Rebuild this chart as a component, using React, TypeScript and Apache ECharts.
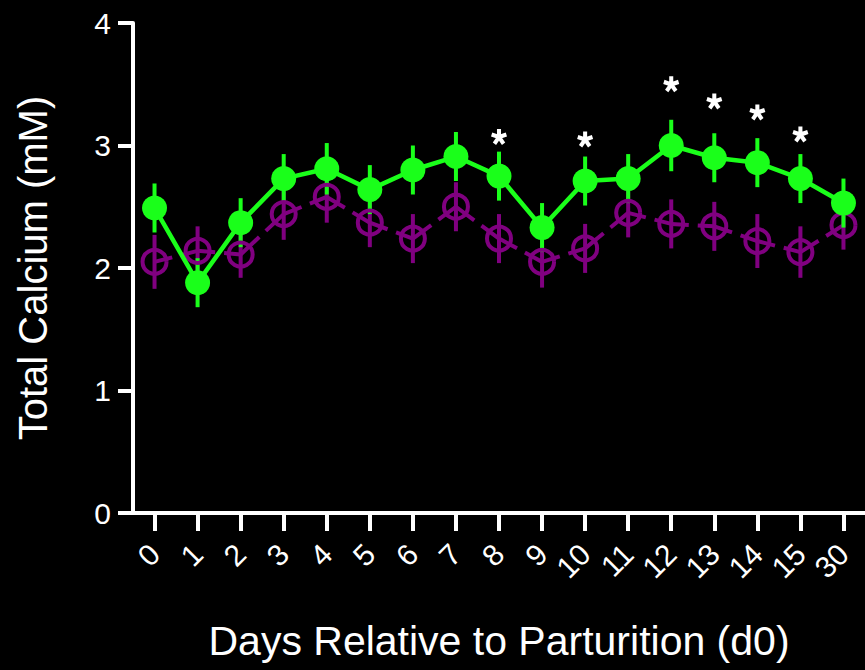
import React, { useEffect, useRef } from "react";
import * as echarts from "echarts";

const days = ["0", "1", "2", "3", "4", "5", "6", "7", "8", "9", "10", "11", "12", "13", "14", "15", "30"];
const greenMean = [2.49, 1.88, 2.37, 2.73, 2.81, 2.64, 2.8, 2.91, 2.75, 2.33, 2.71, 2.73, 3.0, 2.9, 2.86, 2.73, 2.53];
const greenErr = [0.2, 0.2, 0.2, 0.2, 0.21, 0.2, 0.2, 0.2, 0.2, 0.2, 0.2, 0.2, 0.21, 0.2, 0.2, 0.2, 0.2];
const purpleMean = [2.05, 2.14, 2.11, 2.44, 2.58, 2.37, 2.24, 2.5, 2.24, 2.05, 2.16, 2.45, 2.36, 2.34, 2.22, 2.13, 2.35];
const purpleErr = [0.22, 0.2, 0.19, 0.21, 0.21, 0.2, 0.2, 0.2, 0.2, 0.21, 0.2, 0.2, 0.2, 0.2, 0.22, 0.21, 0.2];
const starIndex = [8, 10, 12, 13, 14, 15];
const starValue = [3.07, 3.05, 3.5, 3.36, 3.27, 3.09];
const yTicks = [0, 1, 2, 3, 4];

const GREEN = "#1aff1a";
const PURPLE = "#800080";
const FONT = "Liberation Sans";

const STAR_PATH =
  "path://M74 100L74 0L126 0L126 100Z" +
  "M92 75.3L187.1 44.4L203.1 93.8L108 124.7Z" +
  "M121 84.7L179.8 165.6L137.8 196.2L79 115.3Z" +
  "M121 115.3L62.2 196.2L20.2 165.6L79 84.7Z" +
  "M92 124.7L-3.1 93.8L12.9 44.4L108 75.3Z";

function errorBarSeries(means: number[], errs: number[], color: string) {
  return {
    type: "custom",
    coordinateSystem: "cartesian2d",
    silent: true,
    data: means.map((m, i) => [i, m - errs[i], m + errs[i]]),
    renderItem: (params: any, api: any) => {
      const i = api.value(0);
      const lo = api.coord([i, api.value(1)]);
      const hi = api.coord([i, api.value(2)]);
      return {
        type: "line",
        shape: { x1: lo[0], y1: lo[1], x2: hi[0], y2: hi[1] },
        style: { stroke: color, lineWidth: 4 },
      };
    },
  };
}

export default function App() {
  const ref = useRef<HTMLDivElement>(null);
  useEffect(() => {
    if (!ref.current) return;
    const chart = echarts.init(ref.current, undefined, { renderer: "svg" });
    const purpleSegments = purpleMean.slice(0, -1).map((v, i) => [i, v, purpleMean[i + 1]]);
    chart.setOption({
      animation: false,
      backgroundColor: "#000",
      textStyle: { fontFamily: FONT },
      grid: { left: 133, right: -3, top: 23, bottom: 157 },
      xAxis: {
        type: "category",
        data: days,
        name: "Days Relative to Parturition (d0)",
        nameLocation: "middle",
        nameGap: 107,
        nameTextStyle: { color: "#fff", fontSize: 41, fontFamily: FONT },
        axisLine: { show: true, lineStyle: { color: "#fff", width: 4 } },
        axisTick: { show: true, alignWithLabel: true, length: 18, lineStyle: { color: "#fff", width: 4 } },
        axisLabel: { color: "#fff", fontSize: 30, rotate: 45, margin: 36, fontFamily: FONT, interval: 0 },
        splitLine: { show: false },
      },
      yAxis: {
        type: "value",
        min: yTicks[0],
        max: yTicks[yTicks.length - 1],
        interval: 1,
        name: "Total Calcium (mM)",
        nameLocation: "middle",
        nameGap: 80,
        nameTextStyle: { color: "#fff", fontSize: 40, fontFamily: FONT },
        axisLine: { show: true, lineStyle: { color: "#fff", width: 4 } },
        axisTick: { show: true, length: 15, lineStyle: { color: "#fff", width: 4 } },
        axisLabel: { color: "#fff", fontSize: 30, margin: 22, fontFamily: FONT },
        splitLine: { show: false },
      },
      series: [
        {
          type: "custom",
          coordinateSystem: "cartesian2d",
          silent: true,
          data: purpleSegments,
          renderItem: (params: any, api: any) => {
            const i = api.value(0);
            const p0 = api.coord([i, api.value(1)]);
            const p1 = api.coord([i + 1, api.value(2)]);
            const len = Math.hypot(p1[0] - p0[0], p1[1] - p0[1]);
            const gap = 8;
            return {
              type: "line",
              shape: { x1: p0[0], y1: p0[1], x2: p1[0], y2: p1[1] },
              style: { stroke: PURPLE, lineWidth: 4, lineDash: [(len - gap) / 2, gap + 1] },
            };
          },
        },
        errorBarSeries(purpleMean, purpleErr, PURPLE),
        {
          type: "scatter",
          data: purpleMean,
          symbol: "circle",
          symbolSize: 24,
          itemStyle: { color: "rgba(0,0,0,0)", borderColor: PURPLE, borderWidth: 4, opacity: 1 },
        },
        errorBarSeries(greenMean, greenErr, GREEN),
        {
          type: "line",
          data: greenMean,
          symbol: "circle",
          symbolSize: 25,
          showSymbol: true,
          lineStyle: { color: GREEN, width: 4.5 },
          itemStyle: { color: GREEN },
        },
        {
          type: "scatter",
          data: starIndex.map((idx, k) => [idx, starValue[k]]),
          symbol: STAR_PATH,
          symbolSize: 16,
          itemStyle: { color: "#fff", opacity: 1 },
        },
      ],
    });
    return () => chart.dispose();
  }, []);
  return (
    <div
      ref={ref}
      style={{ position: "fixed", left: 0, top: 0, width: 865, height: 670, background: "#000" }}
    />
  );
}
